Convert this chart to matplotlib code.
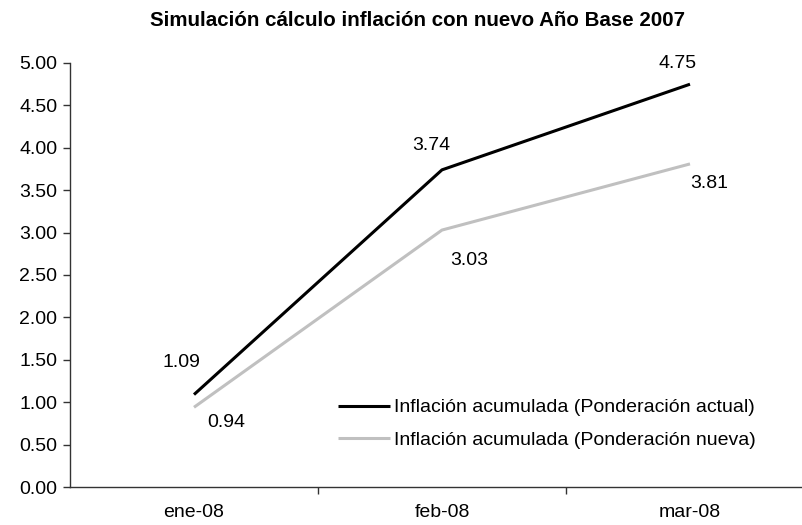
import numpy as np
import matplotlib.pyplot as plt

plt.rcParams['font.family'] = ['Liberation Sans', 'DejaVu Sans']

# data
meses = ['ene-08', 'feb-08', 'mar-08']
actual = [1.09, 3.74, 4.75]
nueva = [0.94, 3.03, 3.81]
lbl_actual = 'Inflación acumulada (Ponderación actual)'
lbl_nueva = 'Inflación acumulada (Ponderación nueva)'

fs = 14

fig = plt.figure(figsize=(8.02, 5.25), dpi=100)
ax = fig.add_axes([70/802, 1 - 487/525, 3*248/802, (487 - 63)/525])

x = np.arange(len(meses))
ax.plot(x, actual, color='black', lw=2.2, label=lbl_actual, solid_capstyle='butt')
ax.plot(x, nueva, color='#c0c0c0', lw=2.2, label=lbl_nueva, solid_capstyle='butt')

# data labels (offsets in pixels, like Excel placed them)
off_a = [(-13, 32), (-11, 24), (-12, 21)]
off_n = [(32, -15), (27, -30), (19, -20)]
for i in range(len(meses)):
    ax.annotate(f'{actual[i]:.2f}', (x[i], actual[i]), xytext=off_a[i],
                textcoords='offset pixels', ha='center', va='center', fontsize=fs)
    ax.annotate(f'{nueva[i]:.2f}', (x[i], nueva[i]), xytext=off_n[i],
                textcoords='offset pixels', ha='center', va='center', fontsize=fs)

ax.set_xlim(-0.5, 2.5)
ax.set_ylim(0, 5)
ax.set_yticks(np.arange(0, 5.01, 0.5))
ax.set_yticklabels([f'{v:.2f}' for v in np.arange(0, 5.01, 0.5)], fontsize=fs)
ax.set_xticks(x)
ax.set_xticklabels(meses, fontsize=fs)
ax.set_xticks([0.5, 1.5], minor=True)
ax.tick_params(axis='x', which='major', length=0, pad=12)
ax.tick_params(axis='x', which='minor', length=5, direction='out', width=1, color='#333333')
ax.tick_params(axis='y', length=5, width=1, color='#333333', pad=4)
for s in ['top', 'right']:
    ax.spines[s].set_visible(False)
for s in ['left', 'bottom']:
    ax.spines[s].set_color('#333333')
    ax.spines[s].set_linewidth(1)

fig.text(0.52, 1 - 21/525, 'Simulación cálculo inflación con nuevo Año Base 2007',
         ha='center', va='center', fontsize=14.8, fontweight='bold')

ax.legend(loc='upper left', bbox_to_anchor=(330/802, 1 - 391/525), bbox_transform=fig.transFigure,
          frameon=False, fontsize=fs, handlelength=2.7, handletextpad=0.2, labelspacing=0.75,
          borderaxespad=0)

fig.savefig('out.png', dpi=100)
